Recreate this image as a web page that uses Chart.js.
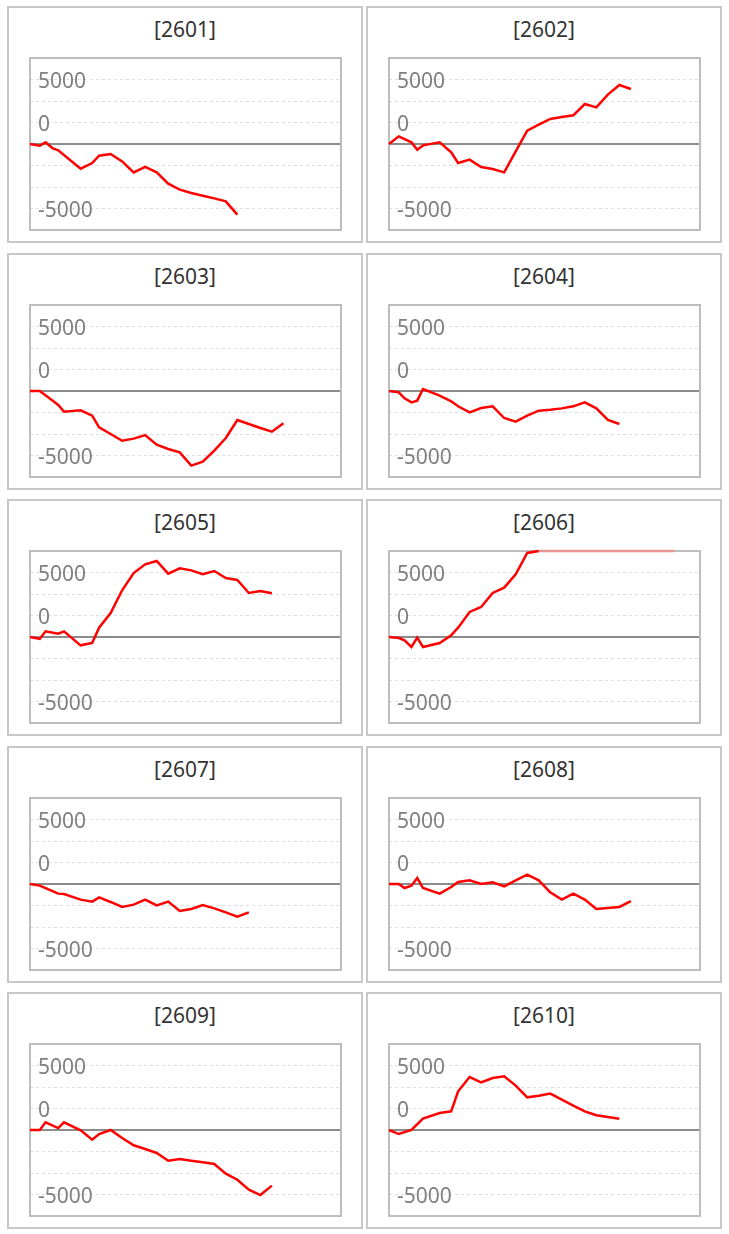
<!DOCTYPE html>
<html>
<head>
<meta charset="utf-8">
<script src="https://cdn.jsdelivr.net/npm/chart.js@4.4.1/dist/chart.umd.min.js"></script>
<style>
  body { margin: 0; background: #fff; font-family: 'Noto Sans', sans-serif; }
  #wrap { position: relative; width: 729px; height: 1234px; }
  .panel { position: absolute; width: 356px; height: 237px; box-sizing: border-box; border: 2px solid #c8c8c8; background: #fff; }
  .panel .ttl { position: absolute; left: 0; right: 0; top: 8px; line-height: 26px; font-size: 21px; text-align: center; color: #333; }
  .panel canvas { position: absolute; left: 0; top: 0; }
</style>
</head>
<body>
<div id="wrap"></div>
<script>
const codes = ['2601', '2602', '2603', '2604', '2605', '2606', '2607', '2608', '2609', '2610'];

// x positions of the points (shared by all panels)
const days = [0, 1.7, 2.7, 3.9, 4.9, 5.9, 8.8, 10.8, 12, 14, 16, 18, 20, 22, 24, 26, 28, 30, 32, 34, 36, 38, 40, 42, 44, 46, 48, 49.5];

const v2601 = [0, -190, 190, -470, -740, null, -2870, -2210, -1360, -1160, -2020, -3300, -2670, -3300, -4610, -5310, -5700, -6010, -6320, -6670, -8220];
const v2602 = [0, 890, null, 190, -660, -160, 190, -970, -2210, -1820, -2670, -2910, -3300, -850, 1550, 2250, 2910, 3140, 3330, 4650, 4260, 5740, 6860, 6400];
const v2603 = [0, 0, null, -1100, -1630, -2400, -2250, -2870, -4230, -5000, -5780, -5540, -5120, -6240, -6740, -7130, -8680, -8220, -6940, -5470, -3370, -3840, -4300, -4730, -3760];
const v2604 = [0, -160, -850, -1320, -1120, 230, -540, -1200, -1780, -2480, -1980, -1780, -3140, -3570, -2870, -2290, -2170, -2020, -1780, -1320, -2020, -3370, -3840];
const v2605 = [0, -230, 660, null, 390, 660, -970, -700, 1090, 2790, 5430, 7440, 8450, 8840, 7360, 7980, 7750, 7290, 7670, 6860, 6630, 5120, 5350, 5080];
const v2606 = [0, -120, -390, -1160, -80, -1160, -700, 190, 1090, 2910, 3490, 5120, 5740, 7290, 9770, 10000, 10000, 10000, 10000, 10000, 10000, 10000, 10000, 10000, 10000, 10000, 10000, 10000];
const v2607 = [0, -190, -470, null, -1120, -1160, -1820, -2050, -1550, -2090, -2670, -2400, -1820, -2480, -2050, -3140, -2910, -2440, -2830, -3300, -3800, -3300];
const v2608 = [0, 0, -470, -190, 700, -470, -1120, -350, 230, 430, 0, 190, -270, 430, 1090, 430, -970, -1820, -1120, -1820, -2910, -2790, -2670, -1980];
const v2609 = [0, 0, 890, null, 230, 890, -40, -1120, -470, 0, -930, -1780, -2210, -2670, -3570, -3370, -3570, -3760, -3950, -5080, -5780, -6940, -7560, -6470];
const v2610 = [0, -470, null, 0, null, 1320, 1980, 2170, 4500, 6160, 5540, 6050, 6240, 5160, 3800, 3990, 4230, 3530, 2830, 2170, 1710, 1510, 1320];

const series = [v2601, v2602, v2603, v2604, v2605, v2606, v2607, v2608, v2609, v2610];

// y axis ticks and the labels shown on them
const yTicks = [-10000, -7500, -5000, -2500, 0, 2500, 5000, 7500, 10000];
const yTickLabels = ['', '-5000', '', '', '', '0', '', '5000', ''];

const Y_MAX = 10000;
const X_MAX = 54;

Chart.defaults.font.family = "'Noto Sans', sans-serif";

// grey frame around the plot area
const plotBox = {
    id: 'plotBox',
    beforeDatasetsDraw(chart) {
        const a = chart.chartArea;
        const c = chart.ctx;
        c.save();
        c.strokeStyle = '#bdbdbd';
        c.lineWidth = 2;
        c.strokeRect(a.left, a.top, a.right - a.left, a.bottom - a.top);
        c.restore();
    }
};

const wrap = document.getElementById('wrap');

codes.forEach((code, i) => {
    const panel = document.createElement('div');
    panel.className = 'panel';
    panel.style.left = (i % 2 ? 366 : 7) + 'px';
    panel.style.top = Math.round(6 + Math.floor(i / 2) * 246.5) + 'px';

    const ttl = document.createElement('div');
    ttl.className = 'ttl';
    ttl.textContent = '[' + code + ']';
    panel.appendChild(ttl);

    const canvas = document.createElement('canvas');
    canvas.width = 352;
    canvas.height = 233;
    panel.appendChild(canvas);
    wrap.appendChild(panel);

    const vals = series[i];
    const points = days.map((d, k) => ({ x: d, y: vals[k] }))
        .filter(p => p.y !== null && p.y !== undefined);

    new Chart(canvas.getContext('2d'), {
        type: 'line',
        data: {
            datasets: [{
                label: code,
                data: points,
                borderColor: '#ff0000',
                borderWidth: 2.5,
                pointRadius: 0,
                tension: 0,
                clip: 3,
                segment: {
                    borderColor: c => (c.p0.parsed.y >= Y_MAX && c.p1.parsed.y >= Y_MAX) ? '#eb9494' : undefined
                }
            }]
        },
        options: {
            responsive: false,
            animation: false,
            devicePixelRatio: 1,
            layout: { padding: { left: 21, right: 20, top: 50, bottom: 11 } },
            plugins: {
                legend: { display: false },
                tooltip: { enabled: false }
            },
            scales: {
                x: {
                    type: 'linear',
                    min: 0,
                    max: X_MAX,
                    display: false
                },
                y: {
                    min: -10000,
                    max: 10000,
                    afterBuildTicks: scale => {
                        scale.ticks = yTicks.map(v => ({ value: v }));
                    },
                    afterFit: scale => {
                        scale.width = 0;
                        scale.paddingTop = 0;
                        scale.paddingBottom = 0;
                    },
                    grid: {
                        drawTicks: false,
                        color: c => c.tick && c.tick.value === 0 ? '#8c8c8c' : '#dedede',
                        lineWidth: c => c.tick && c.tick.value === 0 ? 2 : 1
                    },
                    border: {
                        display: false,
                        dash: c => c.tick && c.tick.value === 0 ? [] : [3, 3]
                    },
                    ticks: {
                        autoSkip: false,
                        mirror: true,
                        padding: 8,
                        labelOffset: 3,
                        color: '#7f7f7f',
                        font: { size: 21 },
                        callback: v => {
                            const k = yTicks.indexOf(v);
                            return k < 0 ? '' : yTickLabels[k];
                        }
                    }
                }
            }
        },
        plugins: [plotBox]
    });
});
</script>
</body>
</html>
